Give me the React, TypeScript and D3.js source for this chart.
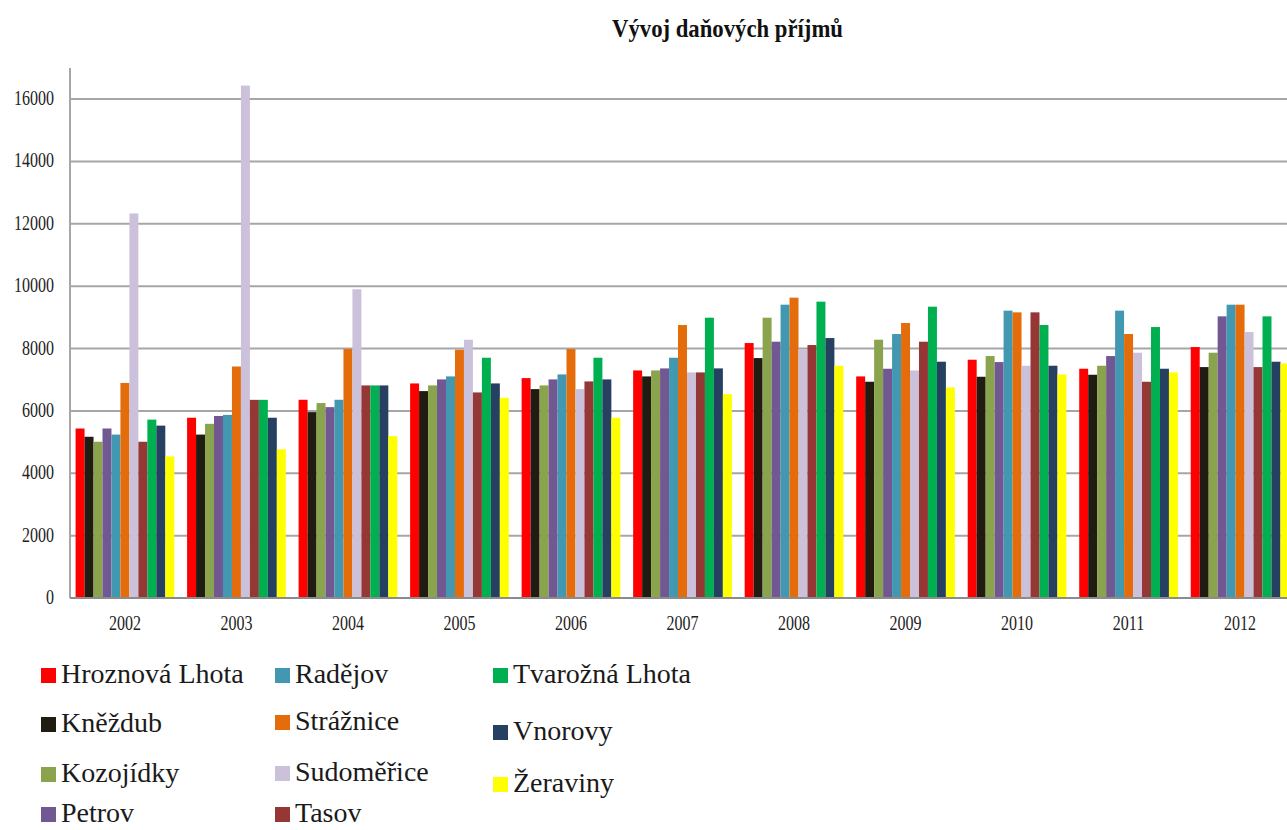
import * as d3 from "d3";
import { useEffect, useRef } from "react";

const years = ["2002", "2003", "2004", "2005", "2006", "2007", "2008", "2009", "2010", "2011", "2012"];
const yTicks = [0, 2000, 4000, 6000, 8000, 10000, 12000, 14000, 16000];

const hroznovaLhota = [5435, 5780, 6356, 6880, 7051, 7297, 8175, 7105, 7640, 7351, 8046];
const knezdub = [5170, 5240, 5960, 6634, 6698, 7105, 7693, 6934, 7094, 7158, 7404];
const kozojidky = [5010, 5585, 6250, 6816, 6816, 7297, 8988, 8282, 7758, 7447, 7865];
const petrov = [5435, 5837, 6120, 7009, 7009, 7362, 8218, 7351, 7565, 7758, 9031];
const radejov = [5240, 5871, 6356, 7105, 7169, 7704, 9405, 8464, 9213, 9213, 9405];
const straznice = [6895, 7423, 7982, 7960, 7982, 8753, 9630, 8817, 9159, 8464, 9405];
const sudomerice = [12330, 16430, 9898, 8282, 6698, 7233, 7982, 7297, 7447, 7865, 8528];
const tasov = [5010, 6354, 6816, 6591, 6944, 7233, 8111, 8218, 9159, 6934, 7404];
const tvaroznaLhota = [5720, 6354, 6816, 7704, 7704, 8988, 9502, 9341, 8753, 8688, 9031];
const vnorovy = [5527, 5780, 6816, 6880, 7009, 7362, 8335, 7576, 7447, 7351, 7576];
const zeraviny = [4540, 4768, 5190, 6420, 5778, 6538, 7447, 6752, 7169, 7233, 7522];

const seriesNames = [
  "Hroznová Lhota", "Kněždub", "Kozojídky", "Petrov", "Radějov", "Strážnice",
  "Sudoměřice", "Tasov", "Tvarožná Lhota", "Vnorovy", "Žeraviny",
];
const seriesValues = [
  hroznovaLhota, knezdub, kozojidky, petrov, radejov, straznice,
  sudomerice, tasov, tvaroznaLhota, vnorovy, zeraviny,
];
const colors = [
  "#ff0000", "#201c12", "#8aa44d", "#725892", "#4198b0", "#e46c0a",
  "#ccc1da", "#953735", "#00b050", "#254061", "#ffff00",
];

export default function App() {
  const ref = useRef<SVGSVGElement>(null);

  useEffect(() => {
    const width = 1287;
    const height = 830;
    const svg = d3.select(ref.current);
    svg.selectAll("*").remove();
    svg.attr("width", width).attr("height", height);

    const font = "'Liberation Serif', serif";
    const axisLeft = 70;
    const axisBottom = 598;

    const x0 = d3.scaleBand().domain(years).range([70, 1295]).paddingInner(0.115).paddingOuter(0.05);
    const x1 = d3.scaleBand().domain(seriesNames).range([0, x0.bandwidth()]);
    const y = d3.scaleLinear().domain([0, 16000]).range([axisBottom, 99]);

    // gridlines
    svg
      .append("g")
      .selectAll("line")
      .data(yTicks.filter((t) => t > 0))
      .enter()
      .append("line")
      .attr("x1", axisLeft)
      .attr("x2", width)
      .attr("y1", (d) => y(d))
      .attr("y2", (d) => y(d))
      .attr("stroke", "#a6a6a6")
      .attr("stroke-width", 2);

    // bars
    const table = years.map((yr, i) => ({ year: yr, vals: seriesValues.map((s) => s[i]) }));
    const groups = svg
      .append("g")
      .selectAll("g")
      .data(table)
      .enter()
      .append("g")
      .attr("transform", (d) => `translate(${x0(d.year)},0)`);
    groups
      .selectAll("rect")
      .data((d) => d.vals.map((v, j) => ({ v, j })))
      .enter()
      .append("rect")
      .attr("x", (d) => x1(seriesNames[d.j]) as number)
      .attr("width", x1.bandwidth())
      .attr("y", (d) => y(d.v))
      .attr("height", (d) => axisBottom - y(d.v))
      .attr("fill", (d) => colors[d.j]);

    // axes lines
    svg
      .append("line")
      .attr("x1", axisLeft)
      .attr("x2", axisLeft)
      .attr("y1", 68)
      .attr("y2", axisBottom)
      .attr("stroke", "#a6a6a6")
      .attr("stroke-width", 2);
    svg
      .append("line")
      .attr("x1", axisLeft)
      .attr("x2", width)
      .attr("y1", axisBottom)
      .attr("y2", axisBottom)
      .attr("stroke", "#8c8c8c")
      .attr("stroke-width", 2);

    // y tick labels
    svg
      .append("g")
      .selectAll("text")
      .data(yTicks)
      .enter()
      .append("text")
      .attr("transform", (d) => `translate(54,${y(d) + 6}) scale(1,1.25)`)
      .attr("text-anchor", "end")
      .attr("font-family", font)
      .attr("font-size", 16)
      .attr("fill", "#222")
      .text((d) => d);

    // x labels
    svg
      .append("g")
      .selectAll("text")
      .data(years)
      .enter()
      .append("text")
      .attr("transform", (d) => `translate(${(x0(d) as number) + x0.bandwidth() / 2},630) scale(1,1.25)`)
      .attr("text-anchor", "middle")
      .attr("font-family", font)
      .attr("font-size", 16)
      .attr("fill", "#222")
      .text((d) => d);

    // title
    svg
      .append("text")
      .attr("transform", "translate(612,37) scale(1,1.3)")
      .attr("font-family", font)
      .attr("font-weight", "bold")
      .attr("font-size", 19)
      .attr("textLength", 231)
      .attr("lengthAdjust", "spacingAndGlyphs")
      .attr("fill", "#111")
      .text("Vývoj daňových příjmů");

    // legend
    const legendPos = [
      [41, 683], [41, 732], [41, 782], [41, 822],
      [275, 683], [275, 730], [275, 781], [275, 822],
      [493, 683], [493, 740], [493, 792],
    ];
    const legend = svg.append("g");
    seriesNames.forEach((name, i) => {
      const [lx, ly] = legendPos[i];
      legend
        .append("rect")
        .attr("x", lx)
        .attr("y", ly - 15)
        .attr("width", 15)
        .attr("height", 15)
        .attr("fill", colors[i]);
      legend
        .append("text")
        .attr("x", lx + 20)
        .attr("y", ly)
        .attr("font-family", font)
        .attr("font-size", 28)
        .attr("fill", "#1a1a1a")
        .text(name);
    });
  }, []);

  return (
    <div style={{ position: "absolute", left: 0, top: 0, background: "#fff" }}>
      <svg ref={ref}></svg>
    </div>
  );
}
